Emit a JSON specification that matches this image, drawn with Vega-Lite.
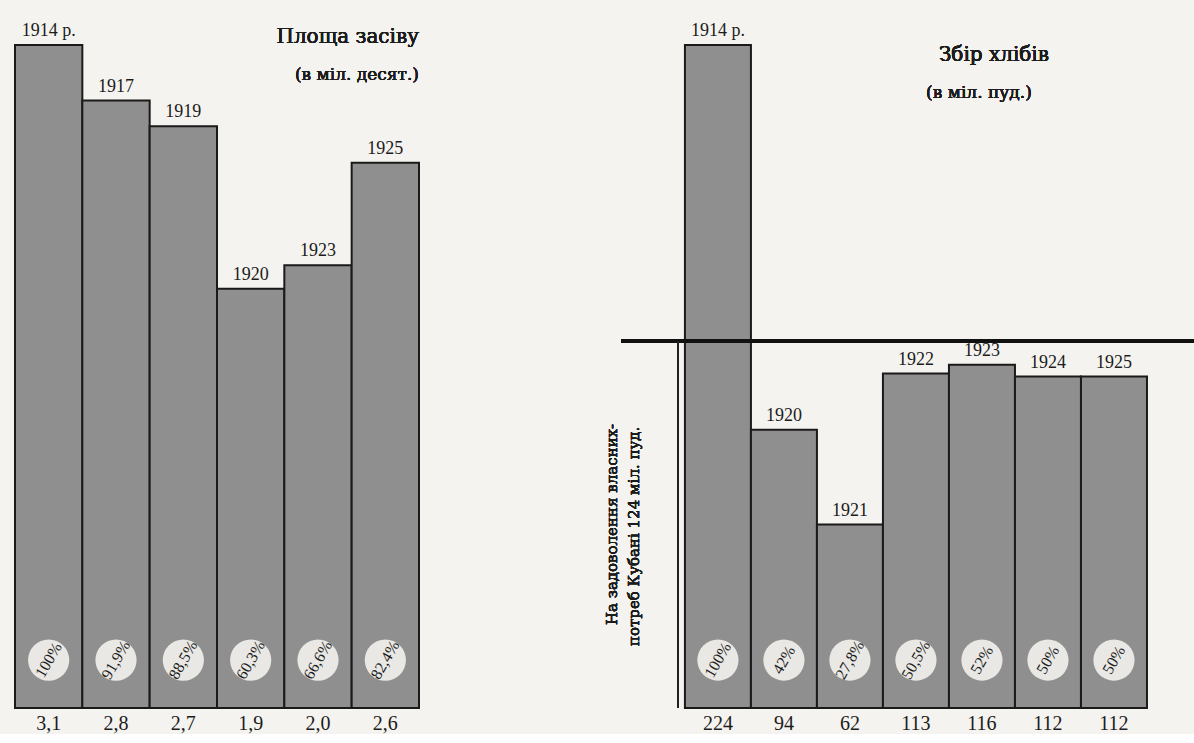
{
  "$schema": "https://vega.github.io/schema/vega-lite/v6.json",
  "background": "#f4f3ef",
  "padding": {"left": 14, "top": 11, "right": 0, "bottom": 0},
  "spacing": 202,
  "bounds": "flush",
  "config": {
    "view": {"stroke": null},
    "font": "Liberation Serif",
    "text": {"font": "Liberation Serif", "color": "#1c1c1c", "fontWeight": "normal"},
    "locale": {"number": {"decimal": ",", "thousands": " ", "grouping": [3], "currency": ["", ""]}}
  },
  "hconcat": [
    {
      "width": 404,
      "height": 697,
      "data": {"values": [
        {"year": "1914 р.", "area": 3.1, "label": "3,1", "pct": 1.0},
        {"year": "1917", "area": 2.84, "label": "2,8", "pct": 0.919},
        {"year": "1919", "area": 2.72, "label": "2,7", "pct": 0.885},
        {"year": "1920", "area": 1.96, "label": "1,9", "pct": 0.603},
        {"year": "1923", "area": 2.07, "label": "2,0", "pct": 0.666},
        {"year": "1925", "area": 2.55, "label": "2,6", "pct": 0.824}
      ]},
      "layer": [
        {
          "mark": {"type": "bar", "fill": "#8f8f8f", "stroke": "#1a1a1a", "strokeWidth": 2},
          "encoding": {
            "x": {"field": "year", "type": "nominal", "sort": null, "axis": null, "scale": {"paddingInner": 0, "paddingOuter": 0}},
            "y": {"field": "area", "type": "quantitative", "axis": null, "scale": {"domain": [0, 3.259], "nice": false}}
          }
        },
        {
          "mark": {"type": "point", "shape": "circle", "filled": true, "size": 1700, "color": "#e9e8e4", "opacity": 1},
          "encoding": {
            "x": {"field": "year", "type": "nominal", "sort": null},
            "y": {"datum": 0.224}
          }
        },
        {
          "mark": {"type": "text", "angle": 300, "fontSize": 16},
          "encoding": {
            "x": {"field": "year", "type": "nominal", "sort": null},
            "y": {"datum": 0.224},
            "text": {"field": "pct", "type": "quantitative", "format": ".3~p"}
          }
        },
        {
          "mark": {"type": "text", "baseline": "bottom", "dy": -5, "fontSize": 18},
          "encoding": {
            "x": {"field": "year", "type": "nominal", "sort": null},
            "y": {"field": "area", "type": "quantitative"},
            "text": {"field": "year"}
          }
        },
        {
          "mark": {"type": "text", "baseline": "top", "dy": 6, "fontSize": 20},
          "encoding": {
            "x": {"field": "year", "type": "nominal", "sort": null},
            "y": {"datum": 0},
            "text": {"field": "label"}
          }
        },
        {
          "mark": {"type": "text", "align": "right", "baseline": "middle", "font": "DejaVu Serif", "fontSize": 20, "fontWeight": "normal", "text": "Площа засіву"},
          "encoding": {
            "x": {"datum": "1925", "type": "nominal", "bandPosition": 1},
            "y": {"datum": 3.137}
          }
        },
        {
          "mark": {"type": "text", "align": "right", "baseline": "middle", "font": "DejaVu Serif", "fontSize": 17, "fontWeight": "normal", "text": "(в міл. десят.)"},
          "encoding": {
            "x": {"datum": "1925", "type": "nominal", "bandPosition": 1},
            "y": {"datum": 2.959}
          }
        }
      ]
    },
    {
      "width": 574,
      "height": 697,
      "data": {"values": [
        {"year": "1914 р.", "value": 224, "pct": 1.0},
        {"year": "1920", "value": 94, "pct": 0.42},
        {"year": "1921", "value": 62, "pct": 0.278},
        {"year": "1922", "value": 113, "pct": 0.505},
        {"year": "1923", "value": 116, "pct": 0.52},
        {"year": "1924", "value": 112, "pct": 0.5},
        {"year": "1925", "value": 112, "pct": 0.5}
      ]},
      "layer": [
        {
          "mark": {"type": "bar", "fill": "#8f8f8f", "stroke": "#1a1a1a", "strokeWidth": 2},
          "encoding": {
            "x": {"field": "year", "type": "nominal", "sort": null, "axis": null, "scale": {"paddingInner": 0, "paddingOuter": 0.848, "align": 0.571}},
            "y": {"field": "value", "type": "quantitative", "axis": null, "scale": {"domain": [0, 235.5], "nice": false}}
          }
        },
        {
          "mark": {"type": "point", "shape": "circle", "filled": true, "size": 1700, "color": "#e9e8e4", "opacity": 1},
          "encoding": {
            "x": {"field": "year", "type": "nominal", "sort": null},
            "y": {"datum": 16.2}
          }
        },
        {
          "mark": {"type": "text", "angle": 300, "fontSize": 16},
          "encoding": {
            "x": {"field": "year", "type": "nominal", "sort": null},
            "y": {"datum": 16.2},
            "text": {"field": "pct", "type": "quantitative", "format": ".3~p"}
          }
        },
        {
          "mark": {"type": "rule", "stroke": "#111", "strokeWidth": 4},
          "encoding": {"y": {"datum": 124}}
        },
        {
          "mark": {"type": "text", "baseline": "bottom", "dy": -5, "fontSize": 18},
          "encoding": {
            "x": {"field": "year", "type": "nominal", "sort": null},
            "y": {"field": "value", "type": "quantitative"},
            "text": {"field": "year"}
          }
        },
        {
          "mark": {"type": "text", "baseline": "top", "dy": 6, "fontSize": 20},
          "encoding": {
            "x": {"field": "year", "type": "nominal", "sort": null},
            "y": {"datum": 0},
            "text": {"field": "value", "type": "quantitative", "format": "d"}
          }
        },
        {
          "mark": {"type": "rule", "stroke": "#222", "strokeWidth": 1.5, "xOffset": -7},
          "encoding": {
            "x": {"datum": "1914 р.", "type": "nominal", "bandPosition": 0},
            "y": {"datum": 0},
            "y2": {"datum": 124}
          }
        },
        {
          "mark": {"type": "text", "angle": 270, "align": "center", "baseline": "middle", "font": "DejaVu Serif", "fontSize": 15, "fontWeight": "normal", "xOffset": -73, "text": "На задоволення власних-"},
          "encoding": {
            "x": {"datum": "1914 р.", "type": "nominal", "bandPosition": 0},
            "y": {"datum": 62}
          }
        },
        {
          "mark": {"type": "text", "angle": 270, "align": "center", "baseline": "middle", "font": "DejaVu Serif", "fontSize": 15, "fontWeight": "normal", "xOffset": -51, "text": "потреб Кубані 124 міл. пуд."},
          "encoding": {
            "x": {"datum": "1914 р.", "type": "nominal", "bandPosition": 0},
            "y": {"datum": 58}
          }
        },
        {
          "mark": {"type": "text", "align": "center", "baseline": "middle", "font": "DejaVu Serif", "fontSize": 20, "fontWeight": "normal", "xOffset": 12, "text": "Збір хлібів"},
          "encoding": {
            "x": {"datum": "1923", "type": "nominal", "bandPosition": 0.5},
            "y": {"datum": 220.6}
          }
        },
        {
          "mark": {"type": "text", "align": "center", "baseline": "middle", "font": "DejaVu Serif", "fontSize": 17, "fontWeight": "normal", "xOffset": -3, "text": "(в міл. пуд.)"},
          "encoding": {
            "x": {"datum": "1923", "type": "nominal", "bandPosition": 0.5},
            "y": {"datum": 207.8}
          }
        }
      ]
    }
  ]
}
